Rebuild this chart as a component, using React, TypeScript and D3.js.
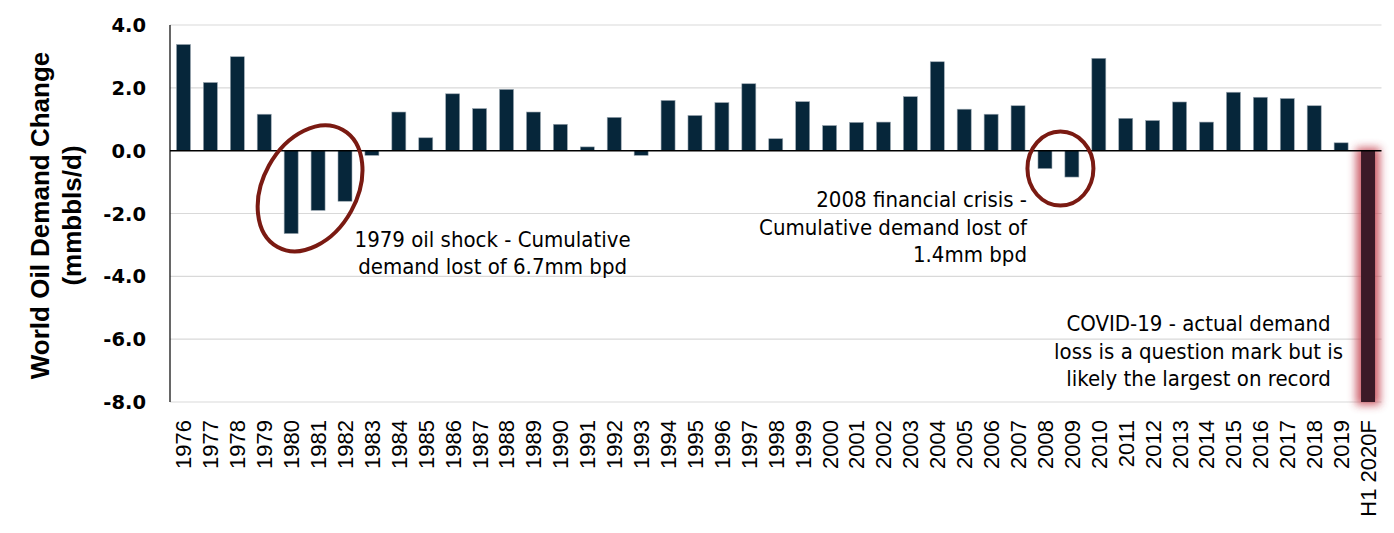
import React from "react";
import * as d3 from "d3";

const categories = [
  "1976", "1977", "1978", "1979", "1980", "1981", "1982", "1983", "1984", "1985",
  "1986", "1987", "1988", "1989", "1990", "1991", "1992", "1993", "1994", "1995",
  "1996", "1997", "1998", "1999", "2000", "2001", "2002", "2003", "2004", "2005",
  "2006", "2007", "2008", "2009", "2010", "2011", "2012", "2013", "2014", "2015",
  "2016", "2017", "2018", "2019", "H1 2020F",
];

const demandChange = [
  3.38, 2.17, 2.99, 1.16, -2.64, -1.9, -1.61, -0.15, 1.23, 0.41,
  1.81, 1.34, 1.95, 1.23, 0.84, 0.12, 1.06, -0.15, 1.6, 1.12,
  1.53, 2.13, 0.38, 1.56, 0.8, 0.9, 0.91, 1.72, 2.83, 1.32,
  1.16, 1.43, -0.57, -0.84, 2.94, 1.03, 0.96, 1.55, 0.91, 1.86,
  1.7, 1.66, 1.43, 0.25, -8.0,
];

const yTicks = [4, 2, 0, -2, -4, -6, -8];

const shockText = ["1979 oil shock - Cumulative", "demand lost of 6.7mm bpd"];
const crisisText = ["2008 financial crisis -", "Cumulative demand lost of", "1.4mm bpd"];
const covidText = ["COVID-19 - actual demand", "loss is a question mark but is", "likely the largest on record"];

const W = 1394;
const H = 533;
const left = 170;
const right = 1381.5;
const top = 25;
const bottom = 402;

const annoFont = "'DejaVu Sans Condensed', 'DejaVu Sans', sans-serif";

export default function App() {
  const x = d3.scaleBand<string>().domain(categories).range([left, right]).paddingInner(0.48).paddingOuter(0.24);
  const y = d3.scaleLinear().domain([-8, 4]).range([bottom, top]);
  const bw = x.bandwidth();
  const xc = (c: string) => (x(c) as number) + bw / 2;
  const last = categories[categories.length - 1];

  return (
    <svg width={W} height={H} style={{ position: "absolute", left: 0, top: 0, background: "#fff" }}>
      <defs>
        <filter id="glow" x="-200%" y="-10%" width="500%" height="120%">
          <feGaussianBlur stdDeviation="4" />
        </filter>
      </defs>

      {yTicks.filter((t) => t !== 0).map((t) => (
        <line key={t} x1={left} x2={right} y1={y(t)} y2={y(t)} stroke="#d9d9d9" strokeWidth={1.2} />
      ))}

      {yTicks.map((t) => (
        <text key={t} x={146} y={y(t)} dy="0.36em" textAnchor="end"
          fontFamily="'DejaVu Sans', sans-serif" fontWeight="bold" fontSize={19.5} fill="#000">
          {t.toFixed(1)}
        </text>
      ))}

      <g fontFamily="'Liberation Sans', Arial, sans-serif" fontWeight="bold" fontSize={26} textAnchor="middle">
        <text transform={`translate(49, ${(top + bottom) / 2 + 2}) rotate(-90)`}>World Oil Demand Change</text>
        <text transform={`translate(81, ${(top + bottom) / 2 + 2}) rotate(-90)`}>(mmbbls/d)</text>
      </g>

      {/* glow behind the forecast bar */}
      <rect x={(x(last) as number) - 5} y={y(0) - 3} width={bw + 10} height={y(-8) - y(0) + 6}
        fill="#c8505c" opacity={0.9} filter="url(#glow)" />

      {categories.map((c, i) => {
        const v = demandChange[i];
        const isLast = c === last;
        return (
          <rect key={c} x={x(c)} y={y(Math.max(0, v))} width={bw}
            height={Math.abs(y(v) - y(0))}
            fill={isLast ? "#3c1a27" : "#06263a"}
            stroke={isLast ? "none" : "#9aa6b0"} strokeWidth={0.6} />
        );
      })}

      <line x1={left} x2={right} y1={y(0)} y2={y(0)} stroke="#000" strokeWidth={1.5} />
      <line x1={left} x2={left} y1={top} y2={bottom} stroke="#000" strokeWidth={1.2} />

      {categories.map((c) => (
        <text key={c} transform={`translate(${xc(c)}, 420) rotate(-90)`} textAnchor="end"
          dy="0.36em" fontFamily="'Liberation Sans', Arial, sans-serif" fontSize={22} fill="#000">
          {c}
        </text>
      ))}

      <ellipse cx={xc("1981") - 8} cy={y(-1.2)} rx={47} ry={67}
        transform={`rotate(29, ${xc("1981") - 8}, ${y(-1.2)})`}
        fill="none" stroke="#7a1a12" strokeWidth={4} />
      <ellipse cx={(xc("2008") + xc("2009")) / 2 + 2} cy={y(-0.57)} rx={33} ry={37}
        fill="none" stroke="#7a1a12" strokeWidth={4} />

      <g fontFamily={annoFont} fontStretch="condensed" fontSize={22} fill="#000">
        {shockText.map((t, i) => (
          <text key={t} x={xc("1987") + 13} y={247 + i * 26.5} textAnchor="middle">{t}</text>
        ))}
        {crisisText.map((t, i) => (
          <text key={t} x={xc("2008") - 18} y={207 + i * 27.5} textAnchor="end">{t}</text>
        ))}
        {covidText.map((t, i) => (
          <text key={t} x={xc("2013") + 19} y={331 + i * 27.5} textAnchor="middle">{t}</text>
        ))}
      </g>
    </svg>
  );
}
